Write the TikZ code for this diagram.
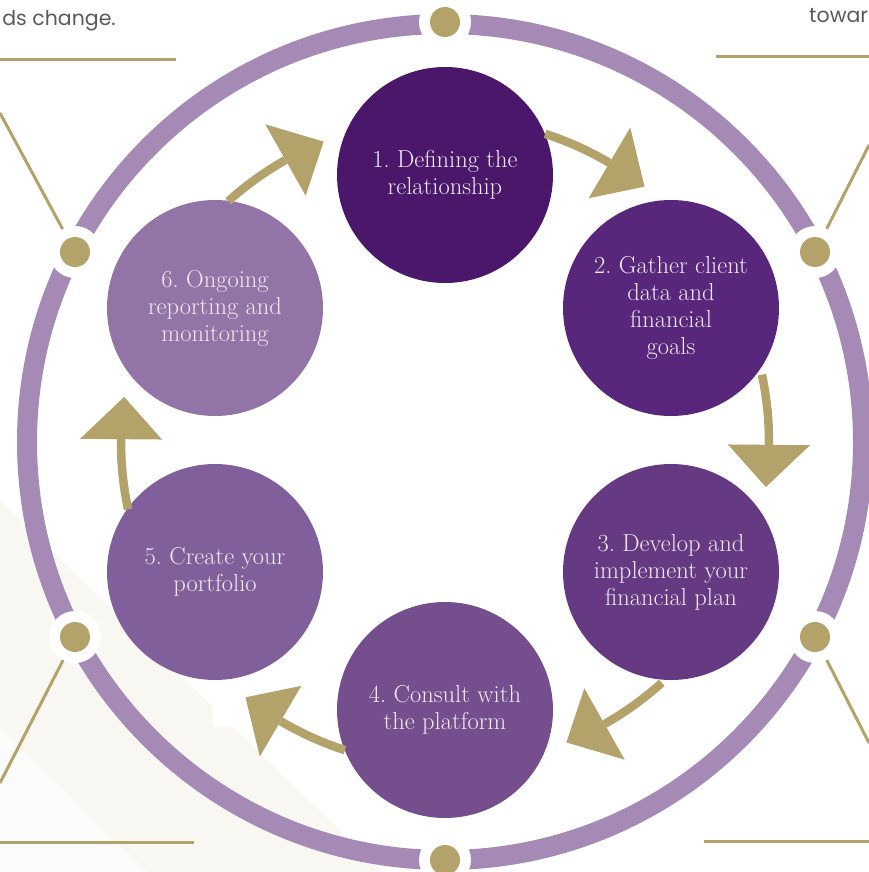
\documentclass[tikz,border=0pt]{standalone}
\usepackage{fontspec}
\newfontfamily\cornerfont{Poppins}
\definecolor{ringc}{HTML}{A48AB5}
\definecolor{gold}{HTML}{B3A26A}
\definecolor{tint}{HTML}{F8F7F2}
\definecolor{tintlight}{HTML}{FBFBF9}
\definecolor{cA}{HTML}{4B176B}
\definecolor{cB}{HTML}{58267A}
\definecolor{cC}{HTML}{663A82}
\definecolor{cD}{HTML}{754E8E}
\definecolor{cE}{HTML}{815F9B}
\definecolor{cF}{HTML}{9274A6}
\definecolor{stagetext}{HTML}{F0EAF4}
\definecolor{greytext}{HTML}{5A5A5C}
\frenchspacing
\begin{document}
\begin{tikzpicture}[x=1pt,y=1pt,
  stage/.style={circle, minimum size=216pt, inner sep=0pt, align=center,
    text=stagetext, font=\fontsize{24.5}{27}\selectfont},
  ringline/.style={draw=ringc, line width=20pt},
  leader/.style={draw=gold, line width=3pt},
  gap/.style={circle, fill=white, minimum size=52pt, inner sep=0pt},
  knob/.style={circle, fill=gold, minimum size=30pt, inner sep=0pt},
  shaft/.style={draw=gold, line width=8.5pt},
  corner/.style={text=greytext, font=\cornerfont\fontsize{20.5}{24}\selectfont, inner sep=0pt}]
\useasboundingbox (0,0) rectangle (869,-872);
\clip (0,0) rectangle (869,-872);
% background tint
\fill[tint] (0,-500) -- (213,-707) -- (213,-727) -- (233,-727) -- (383,-872) -- (0,-872) -- cycle;
\fill[tintlight] (0,-727) -- (147,-872) -- (0,-872) -- cycle;
% ring
\coordinate (C) at (445,-442);
\draw[ringline] (C) circle[radius=418pt];
% corner texts and leader lines
\node[corner, anchor=base east] (tl) at (116,-26) {ds change.};
\node[corner, anchor=base west] (tr) at (809,-23) {towar};
\coordinate (h1a) at (0,-60);   \coordinate (h1b) at (176,-60);
\coordinate (h2a) at (716,-57); \coordinate (h2b) at (869,-57);
\coordinate (h3a) at (0,-842);  \coordinate (h3b) at (194,-842);
\coordinate (h4a) at (704,-841);\coordinate (h4b) at (869,-841);
\draw[leader] (h1a) -- (h1b);
\draw[leader] (h2a) -- (h2b);
\draw[leader] (h3a) -- (h3b);
\draw[leader] (h4a) -- (h4b);
% dots on ring
\coordinate (p1) at (445,-22);
\coordinate (p2) at (815,-252);
\coordinate (p3) at (815,-637);
\coordinate (p4) at (445,-860);
\coordinate (p5) at (75,-637);
\coordinate (p6) at (75,-252);
\coordinate (e6) at (0,-113);
\coordinate (e2) at (869,-145);
\coordinate (e5) at (0,-783);
\coordinate (e3) at (869,-743);
\draw[leader] (p6) -- (e6);
\draw[leader] (p2) -- (e2);
\draw[leader] (p5) -- (e5);
\draw[leader] (p3) -- (e3);
\foreach \i in {1,...,6} {
  \node[gap] (g\i) at (p\i) {};
  \node[knob] (d\i) at (p\i) {};
}
% stage circles
\node[stage, fill=cA] (n1) at (445,-175) {1. Defining the\\relationship};
\node[stage, fill=cB] (n2) at (671,-308) {2. Gather client\\data and\\financial\\goals};
\node[stage, fill=cC] (n3) at (671,-572) {3. Develop and\\implement your\\financial plan};
\node[stage, fill=cD] (n4) at (445,-710) {4. Consult with\\the platform};
\node[stage, fill=cE] (n5) at (215,-572) {5. Create your\\portfolio};
\node[stage, fill=cF] (n6) at (215,-308) {6. Ongoing\\reporting and\\monitoring};
% curved arrows between stages
\begin{scope}[shift={(C)}]
\foreach \t in {60,0,-60,-120,180,120} {
  \coordinate (as\t) at (\t+12:324);
  \draw[shaft] (as\t) arc[start angle=\t+12, end angle=\t-0.5, radius=324pt];
  \fill[gold] (\t-0.5:283) -- (\t-0.5:365) -- (\t-8:324) -- cycle;
}
\end{scope}
\end{tikzpicture}
\end{document}
